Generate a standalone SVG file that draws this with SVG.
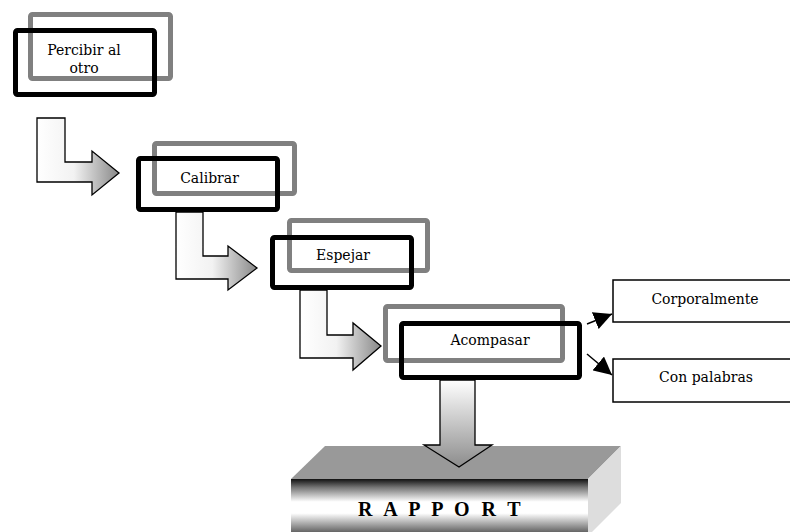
<svg xmlns="http://www.w3.org/2000/svg" width="790" height="532" viewBox="0 0 790 532">
<defs>
<linearGradient id="gH" x1="0" y1="0" x2="1" y2="0">
<stop offset="0" stop-color="#ffffff"/><stop offset="0.45" stop-color="#f2f2f2"/><stop offset="1" stop-color="#888"/>
</linearGradient>
<linearGradient id="gV" x1="0" y1="0" x2="0" y2="1">
<stop offset="0" stop-color="#ffffff"/><stop offset="1" stop-color="#8c8c8c"/>
</linearGradient>
<linearGradient id="gFront" x1="0" y1="0" x2="0" y2="1">
<stop offset="0" stop-color="#111"/><stop offset="0.15" stop-color="#777"/><stop offset="0.4" stop-color="#fff"/><stop offset="0.6" stop-color="#fff"/><stop offset="1" stop-color="#444"/>
</linearGradient>
<marker id="ah" viewBox="0 0 10 10" refX="10" refY="5" markerWidth="18" markerHeight="18" markerUnits="userSpaceOnUse" orient="auto">
<path d="M0,0 L10,5 L0,10 z" fill="#000"/>
</marker>
</defs>
<style>
.g{fill:none;stroke:#808080;stroke-width:5}
.k{fill:none;stroke:#000;stroke-width:5}
.t{font-family:"DejaVu Serif","Liberation Serif",serif;font-size:14px;fill:#000;text-anchor:middle}
.ar{fill:url(#gH);stroke:#000;stroke-width:1.3}
.rb{fill:#fff;stroke:#000;stroke-width:1.5}
</style>
<rect width="790" height="532" fill="#fff"/>
<g id="percibir">
<rect class="g" x="30.5" y="14.5" width="140" height="64" rx="2"/>
<rect class="k" x="15.5" y="30.5" width="139" height="64" rx="2"/>
<text class="t" x="84" y="55">Percibir al</text>
<text class="t" x="84" y="73">otro</text>
</g>
<g id="calibrar">
<rect class="g" x="154.5" y="143.5" width="140" height="50" rx="2"/>
<rect class="k" x="138.5" y="158.5" width="139" height="51" rx="2"/>
<text class="t" x="209.5" y="183">Calibrar</text>
</g>
<g id="espejar">
<rect class="g" x="289.5" y="220.5" width="138" height="50" rx="2"/>
<rect class="k" x="272.5" y="237.5" width="139" height="50" rx="2"/>
<text class="t" x="343" y="260">Espejar</text>
</g>
<g id="acompasar">
<rect class="g" x="385.5" y="306.5" width="177" height="54" rx="2"/>
<rect class="k" x="401.5" y="323.5" width="178" height="54" rx="2"/>
<text class="t" x="490" y="345">Acompasar</text>
</g>
<g id="corporalmente">
<rect class="rb" x="613" y="280" width="200" height="42"/>
<text class="t" x="705" y="304">Corporalmente</text>
</g>
<g id="conpalabras">
<rect class="rb" x="613" y="359" width="200" height="43"/>
<text class="t" x="706" y="382">Con palabras</text>
</g>
<g id="rapport">
<polygon points="291,479 588,479 621,446 325,446" fill="#999"/>
<polygon points="588,479 621,446 621,503 588,536" fill="#ddd"/>
<rect x="291" y="479" width="297" height="57" fill="url(#gFront)"/>
<text x="358" y="516" font-family="Liberation Serif, serif" font-weight="bold" font-size="20" letter-spacing="3.4" fill="#000">R A P P O R T</text>
</g>
<g id="connectors">
<polygon class="ar" points="37,118 65,118 65,162 92,162 92,151 119,173 92,195 92,182 37,182"/>
<polygon class="ar" points="176,212 203,212 203,256 228,256 228,246 257,268 228,290 228,279 176,279"/>
<polygon class="ar" points="300,290 327,290 327,335 353,335 353,323 381,346 353,370 353,358 300,358"/>
<polygon fill="url(#gV)" stroke="#000" stroke-width="1.3" points="440,380 475,380 475,445 492,445 459,467 424,445 440,445"/>
<line x1="587" y1="324" x2="612" y2="314" stroke="#000" stroke-width="1.5" marker-end="url(#ah)"/>
<line x1="587" y1="354" x2="612" y2="375" stroke="#000" stroke-width="1.5" marker-end="url(#ah)"/>
</g>
</svg>
